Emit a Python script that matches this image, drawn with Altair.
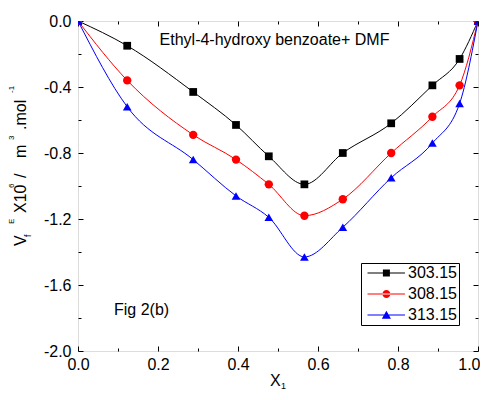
import altair as alt
import pandas as pd

# ---------------- data ----------------
x1 = [0.0, 0.123, 0.288, 0.395, 0.477, 0.566, 0.662, 0.783, 0.886, 0.954, 1.0]
v_303 = [0.0, -0.15, -0.43, -0.63, -0.82, -0.99, -0.80, -0.62, -0.39, -0.23, 0.0]
v_308 = [0.0, -0.36, -0.69, -0.84, -0.99, -1.18, -1.08, -0.80, -0.58, -0.39, 0.0]
v_313 = [0.0, -0.52, -0.84, -1.06, -1.19, -1.43, -1.25, -0.95, -0.74, -0.50, 0.0]
series = ["303.15", "308.15", "313.15"]
colors = ["#000000", "#ff0000", "#0000ff"]
shapes = ["square", "circle", "triangle-up"]
x_ticks = [0.0, 0.1, 0.2, 0.3, 0.4, 0.5, 0.6, 0.7, 0.8, 0.9, 1.0]
x_labels = [0.0, 0.2, 0.4, 0.6, 0.8, 1.0]
y_ticks = [-2.0, -1.8, -1.6, -1.4, -1.2, -1.0, -0.8, -0.6, -0.4, -0.2, 0.0]
y_labels = [-2.0, -1.6, -1.2, -0.8, -0.4, 0.0]
chart_title = "Ethyl-4-hydroxy benzoate+ DMF"
fig_label = "Fig 2(b)"

rows = []
for s, vals in zip(series, [v_303, v_308, v_313]):
    for xv, yv in zip(x1, vals):
        rows.append({"x": xv, "v": yv, "T": s})
df = pd.DataFrame(rows)

# ---------------- style ----------------
W, H = 400, 330
FONT = "Liberation Sans"
FS = 16
xs = alt.Scale(domain=[0, 1], nice=False, zero=False)
ys = alt.Scale(domain=[-2, 0], nice=False, zero=False)
lab_expr = "replace(format(datum.value, '.1f'), '\u2212', '-')"

def tick_axis(orient, offset, values, test):
    return alt.Axis(orient=orient, offset=offset, values=values, labels=False,
                    domain=False, grid=False, title=None, ticks=True,
                    tickColor="black", tickWidth=1,
                    tickSize={"condition": {"test": test, "value": 5}, "value": 3})

x_test = "round(datum.value*10) % 2 == 0"
y_test = "round(datum.value*5) % 2 == 0"

x_main = alt.Axis(orient="bottom", values=x_labels, labelExpr=lab_expr, ticks=False,
                  domain=False, grid=False, title=None, labelFontSize=FS, labelFont=FONT,
                  labelColor="black", labelPadding=5, labelFlush=False, labelOverlap=False,
                  labelAlign={"condition": {"test": "datum.value > 0.99", "value": "right"},
                              "value": "center"},
                  labelOffset={"condition": {"test": "datum.value > 0.99", "value": 2},
                               "value": 0})
y_main = alt.Axis(orient="left", values=y_labels, labelExpr=lab_expr, ticks=False,
                  domain=False, grid=False, title=None, labelFontSize=FS, labelFont=FONT,
                  labelColor="black", labelPadding=7, labelFlush=False, labelOverlap=False)

axes = [
    (x_main, y_main),
    (tick_axis("top", -H, x_ticks, x_test), tick_axis("right", -W, y_ticks, y_test)),
    (tick_axis("bottom", -H, x_ticks, x_test), tick_axis("left", -W, y_ticks, y_test)),
]

layers = []
for i, (s, c) in enumerate(zip(series, colors)):
    ax, ay = axes[i]
    layers.append(
        alt.Chart(df).transform_filter(alt.datum.T == s)
        .mark_line(interpolate="monotone", strokeWidth=1, color=c, clip=True)
        .encode(x=alt.X("x:Q", scale=xs, axis=ax), y=alt.Y("v:Q", scale=ys, axis=ay))
    )
for s, c, sh in zip(series, colors, shapes):
    size = {"square": 60, "circle": 70, "triangle-up": 75}[sh]
    layers.append(
        alt.Chart(df).transform_filter(alt.datum.T == s)
        .mark_point(filled=True, opacity=1, shape=sh, size=size, color=c, clip=True)
        .encode(x=alt.X("x:Q", scale=xs, axis=None), y=alt.Y("v:Q", scale=ys, axis=None))
    )

# legend: line + marker symbols
line_p = "M-1,-0.15H9.7V0.15H-1Z"
legend_paths = [
    line_p + "M3.4,-1H5.4V1H3.4Z",
    line_p + "M3.25,0A1.15,1.15,0,1,0,5.55,0A1.15,1.15,0,1,0,3.25,0Z",
    line_p + "M4.4,-1.25L5.7,1.05L3.1,1.05Z",
]
leg = alt.Legend(title=None, orient="none", legendX=283, legendY=242, padding=2,
                 strokeColor="black", fillColor="white", labelFontSize=16, labelFont=FONT,
                 labelColor="black", labelOffset=29, symbolSize=49, symbolStrokeWidth=0,
                 rowPadding=5, labelLimit=0)
layers.append(
    alt.Chart(df).transform_filter("datum.x < -5")
    .mark_point(filled=True, opacity=1)
    .encode(color=alt.Color("T:N", scale=alt.Scale(domain=series, range=colors), legend=leg),
            shape=alt.Shape("T:N", scale=alt.Scale(domain=series, range=legend_paths), legend=leg))
)

def txt(t, x, y, size, angle=0, align="left"):
    return alt.Chart(pd.DataFrame({"t": [t]})).mark_text(
        x=x, y=y, fontSize=size, font=FONT, color="black", angle=angle,
        align=align, baseline="alphabetic").encode(text="t:N")

layers += [
    txt(chart_title, 196.5, 24, FS, align="center"),
    txt(fig_label, 36, 294, FS),
    # x title X1
    txt("X", 192, 365, FS),
    txt("1", 203, 368, 9),
    # y title V_f^E X10^6 / m^3 .mol^-1
    txt("V", -52, 225, FS, angle=270),
    txt("f", -47, 216, 9, angle=270),
    txt("E", -64, 203, 8, angle=270),
    txt("X10", -52, 192, FS, angle=270),
    txt("6", -64, 167, 8, angle=270),
    txt("/", -52, 157, FS, angle=270),
    txt("m", -52, 137, FS, angle=270),
    txt("3", -64, 119, 8, angle=270),
    txt(".mol", -52, 109, FS, angle=270),
    txt("-1", -64, 72, 8, angle=270),
]

chart = (
    alt.layer(*layers)
    .resolve_axis(x="independent", y="independent")
    .properties(width=W, height=H,
                padding={"left": 70, "top": 13, "right": 2, "bottom": 41},
                autosize=alt.AutoSizeParams(type="none"))
    .configure_view(stroke="black", strokeWidth=1)
    .configure(background="white")
)

chart.save("out.html", embed_options={"renderer": "svg", "actions": False})
